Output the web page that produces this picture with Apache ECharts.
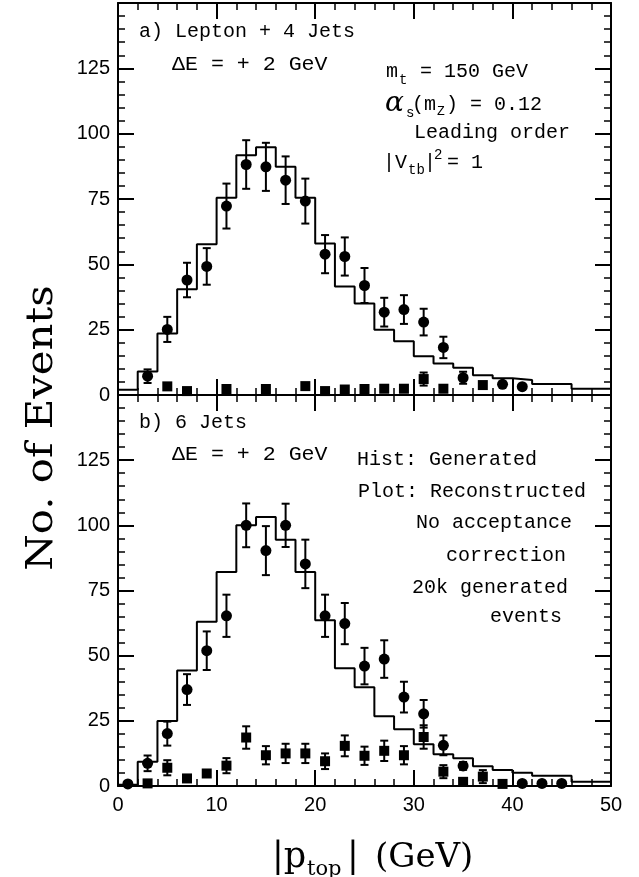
<!DOCTYPE html>
<html>
<head>
<meta charset="utf-8">
<script src="https://cdn.jsdelivr.net/npm/echarts@6/dist/echarts.min.js"></script>
<style>
html,body{margin:0;padding:0;background:#fff;}
#chart{width:639px;height:877px;}
</style>
</head>
<body>
<div id="chart"></div>
<script>
// ---------- DATA ----------
// histogram bin edges (GeV): 0,2,4,...,50 ; one value per 2-GeV bin
const binEdges = [0,2,4,6,8,10,12,14,16,18,20,22,24,26,28,30,32,34,36,38,40,42,44,46,48,50];
// Panel a) Lepton + 4 Jets : generated histogram
const histA = [2.0,9.0,23.5,40.5,57.7,75.5,91.7,94.8,87.3,75.5,58.0,41.5,35.0,25.0,20.6,14.8,12.1,10.4,7.6,6.4,5.7,4.2,4.2,2.4,2.4];
// Panel b) 6 Jets : generated histogram
const histB = [0.5,9.3,24.9,44.3,63.0,82.1,100.0,103.2,94.5,82.1,63.6,45.2,37.9,26.8,21.8,16.0,12.2,10.6,7.6,6.1,5.1,3.9,3.9,1.6,1.6];

// Panel a) reconstructed (circles) with errors
const circAx   = [3,5,7,9,11,13,15,17,19,21,23,25,27,29,31,33,35,39,41];
const circAy   = [7.2,25.1,44.0,49.2,72.3,88.2,87.3,82.2,74.2,53.9,53.0,41.9,31.7,32.7,27.9,18.2,6.6,4.1,3.2];
const circAerr = [2.6,4.8,6.6,7.0,8.6,9.3,9.2,9.1,8.6,7.3,7.3,6.7,5.5,5.5,5.1,4.1,2.3,0,0];
// Panel a) squares
const sqAx   = [5,7,11,15,19,21,23,25,27,29,31,33,37];
const sqAy   = [3.3,1.5,2.3,2.3,3.4,1.5,2.1,2.3,2.4,2.4,6.1,2.4,3.8];
const sqAerr = [0,0,0,0,0,0,0,0,0,0,2.5,0,1.2];

// Panel b) reconstructed (circles) with errors
const circBx   = [1,3,5,7,9,11,13,15,17,19,21,23,25,27,29,31,33,35,41,43,45];
const circBy   = [0.8,8.7,20.1,37.0,51.9,65.3,100.0,90.3,100.0,85.2,65.3,62.3,46.0,48.7,34.1,27.7,15.6,7.7,1.0,1.0,1.0];
const circBerr = [0,3.0,4.6,5.9,7.4,8.1,8.4,9.4,8.3,9.3,8.1,7.9,7.0,7.2,5.9,5.3,3.8,1.5,0,0,0];
// Panel b) squares
const sqBx   = [3,5,7,9,11,13,15,17,19,21,23,25,27,29,31,33,35,37,39];
const sqBy   = [1.0,7.0,2.9,4.8,7.8,18.6,11.8,12.5,12.5,9.5,15.4,11.6,13.5,11.8,18.8,5.5,1.6,3.6,0.8];
const sqBerr = [0,2.9,0,1.2,2.9,4.3,3.5,3.7,3.7,3.0,4.0,3.5,3.9,3.5,4.5,2.5,0,2.5,0];

// axis tick labels
const xTicks = [0,10,20,30,40,50];
const yTicks = [0,25,50,75,100,125];

// ---------- BUILD ----------
function stepData(vals){
  const d = vals.map((v,i)=>[binEdges[i], v]);
  d.push([binEdges[binEdges.length-1], vals[vals.length-1]]);
  return d;
}
function pts(xs, ys){ return xs.map((x,i)=>[x, ys[i]]); }
function errPts(xs, ys, es){ return xs.map((x,i)=>[x, ys[i], es[i]]).filter(p=>p[2]>0); }

const chart = echarts.init(document.getElementById('chart'), null, {renderer:'canvas'});

const gridA = {left:118, top:3, width:493, height:392, show:false};
const gridB = {left:118, top:395, width:493, height:391, show:false};

const tickFont = {fontFamily:'Liberation Sans', fontSize:20, color:'#000'};

function xAx(grid, pos, labels){
  return {
    type:'value', gridIndex:grid, position:pos, min:0, max:50, interval:10,
    axisLine:{show:true, onZero:false, lineStyle:{color:'#000', width:2}},
    axisTick:{show:true, inside:true, length:16, lineStyle:{color:'#000', width:2}},
    minorTick:{show:true, splitNumber:5, length:7, lineStyle:{color:'#000', width:1.5}},
    splitLine:{show:false},
    axisLabel:Object.assign({show:labels, margin:9, formatter:v=> xTicks.indexOf(v)>=0 ? String(v) : ''}, tickFont)
  };
}
function yAx(grid, pos, labels){
  return {
    type:'value', gridIndex:grid, position:pos, min:0, max:150, interval:25,
    axisLine:{show:true, onZero:false, lineStyle:{color:'#000', width:2}},
    axisTick:{show:true, inside:true, length:16, lineStyle:{color:'#000', width:2}},
    minorTick:{show:true, splitNumber:5, length:7, lineStyle:{color:'#000', width:1.5}},
    splitLine:{show:false},
    axisLabel:Object.assign({show:labels, margin:8, formatter:v=> yTicks.indexOf(v)>=0 ? String(v) : ''}, tickFont)
  };
}

function errSeries(xi, yi, data){
  return {
    type:'custom', xAxisIndex:xi, yAxisIndex:yi, data:data, z:4, clip:true,
    renderItem:function(params, api){
      const x = api.value(0), y = api.value(1), e = api.value(2);
      const t = api.coord([x, y+e]);
      const b = api.coord([x, y-e]);
      const hw = 4;
      const st = {stroke:'#000', lineWidth:2};
      return {type:'group', children:[
        {type:'line', shape:{x1:t[0], y1:t[1], x2:b[0], y2:b[1]}, style:st},
        {type:'line', shape:{x1:t[0]-hw, y1:t[1], x2:t[0]+hw, y2:t[1]}, style:st},
        {type:'line', shape:{x1:b[0]-hw, y1:b[1], x2:b[0]+hw, y2:b[1]}, style:st}
      ]};
    }
  };
}
function histSeries(xi, yi, vals){
  return {type:'line', xAxisIndex:xi, yAxisIndex:yi, data:stepData(vals), step:'end',
    showSymbol:false, symbol:'none', lineStyle:{color:'#000', width:2}, z:3, animation:false};
}
function scat(xi, yi, data, sym, size){
  return {type:'scatter', xAxisIndex:xi, yAxisIndex:yi, data:data, symbol:sym, symbolSize:size,
    itemStyle:{color:'#000', opacity:1}, emphasis:{disabled:true}, z:5, animation:false};
}

const mono = 'Liberation Mono';
function txt(x, y, s, opts){
  opts = opts || {};
  return {type:'text', x:x, y:y, z:10, scaleX:opts.sx||1,
    style:{text:s, fill:'#000', font:(opts.style||'')+' '+(opts.size||20)+'px "'+(opts.family||mono)+'"',
      textAlign:opts.align||'left', textVerticalAlign:'middle'}};
}

const graphics = [
  // panel a
  txt(139, 32, 'a) Lepton + 4 Jets'),
  txt(172, 65, 'ΔE = + 2 GeV', {sx:1.08}),
  txt(386, 72, 'm'),
  txt(399, 80, 't', {size:14}),
  txt(420, 72, '= 150 GeV'),
  txt(385, 104, 'α', {size:28, style:'italic', family:'DejaVu Serif'}),
  txt(406, 113, 's', {size:14}),
  txt(412, 105, '(m'),
  txt(437, 112, 'Z', {size:13}),
  txt(446, 105, ') = 0.12'),
  txt(570, 133, 'Leading order', {align:'right'}),
  txt(383, 163, '|V'),
  txt(408, 170, 'tb', {size:14}),
  txt(424, 163, '|'),
  txt(434, 155, '2', {size:14}),
  txt(447, 163, '= 1'),
  // panel b
  txt(139, 423, 'b) 6 Jets'),
  txt(172, 455, 'ΔE = + 2 GeV', {sx:1.08}),
  txt(357, 460, 'Hist: Generated'),
  txt(358, 492, 'Plot: Reconstructed'),
  txt(572, 523, 'No acceptance', {align:'right'}),
  txt(566, 556, 'correction', {align:'right'}),
  txt(568, 588, '20k generated', {align:'right'}),
  txt(562, 617, 'events', {align:'right'}),
  // x axis title
  txt(272, 858, '|p', {size:35, family:'DejaVu Serif'}),
  txt(307, 870, 'top', {size:21, family:'DejaVu Serif'}),
  txt(347, 858, '|', {size:35, family:'DejaVu Serif'}),
  txt(375, 858, '(GeV)', {size:34, family:'DejaVu Serif'}),
  // y axis title
  {type:'text', x:42, y:428, rotation:Math.PI/2, scaleX:1.1, z:10,
    style:{text:'No. of Events', fill:'#000', font:'38px "DejaVu Serif"', textAlign:'center', textVerticalAlign:'middle'}}
];

const option = {
  animation:false,
  backgroundColor:'#fff',
  grid:[gridA, gridB],
  xAxis:[xAx(0,'bottom',false), xAx(0,'top',false), xAx(1,'bottom',true), xAx(1,'top',false)],
  yAxis:[yAx(0,'left',true), yAx(0,'right',false), yAx(1,'left',true), yAx(1,'right',false)],
  series:[
    histSeries(0,0,histA),
    errSeries(0,0,errPts(circAx,circAy,circAerr)),
    errSeries(0,0,errPts(sqAx,sqAy,sqAerr)),
    scat(0,0,pts(circAx,circAy),'circle',11),
    scat(0,0,pts(sqAx,sqAy),'rect',10),
    histSeries(2,2,histB),
    errSeries(2,2,errPts(circBx,circBy,circBerr)),
    errSeries(2,2,errPts(sqBx,sqBy,sqBerr)),
    scat(2,2,pts(circBx,circBy),'circle',11),
    scat(2,2,pts(sqBx,sqBy),'rect',10)
  ],
  graphic:graphics
};
chart.setOption(option);
</script>
</body>
</html>
